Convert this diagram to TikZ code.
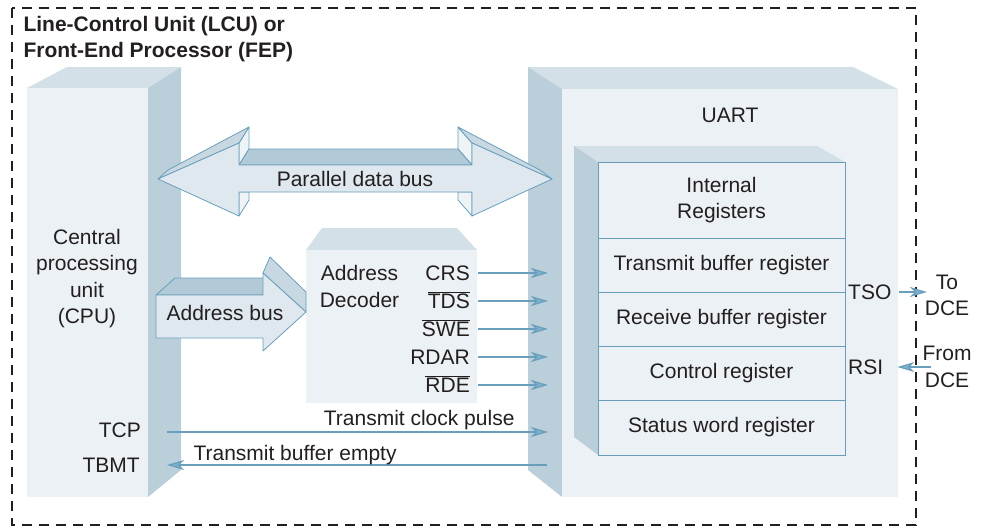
\documentclass[tikz,border=0pt]{standalone}
\usepackage{fontspec}
\setmainfont{Liberation Sans}
\usetikzlibrary{arrows.meta}
\definecolor{ink}{HTML}{231F20}
\definecolor{facelight}{HTML}{EBF1F4}
\definecolor{facetop}{HTML}{D3E0E7}
\definecolor{faceside}{HTML}{BBCFDB}
\definecolor{busfront}{HTML}{DEE8EE}
\definecolor{bustop}{HTML}{B2C9D7}
\definecolor{busslope}{HTML}{C8D8E2}
\definecolor{busback}{HTML}{EEF3F6}
\definecolor{lineblue}{HTML}{6A9FBC}
\definecolor{tipblue}{HTML}{7DB0CB}
\newcommand{\ovl}[1]{$\overline{\mbox{#1}}$}

\begin{document}
\begin{tikzpicture}[x=1pt, y=-1pt, font=\fontsize{21}{26.5}\selectfont, text=ink,
    busface/.style={fill=#1, draw=lineblue, line width=0.8pt, line join=round},
    reg/.style={draw=lineblue, fill=facelight, line width=1pt, minimum width=247pt, inner sep=0pt, align=center},
    sig/.style={anchor=east, inner sep=0pt, text height=15pt, text depth=0pt},
    sigarrow/.style={draw=lineblue, line width=1.2pt, -{Stealth[length=17pt, width=10pt, inset=5pt, fill=tipblue]}}]
        \useasboundingbox (0,0) rectangle (981,527);
        \draw[ink, line width=1.2pt, dash pattern=on 10pt off 7pt] (12,8) rectangle (916,525);
        \node[anchor=base west, font=\fontsize{21}{26}\selectfont\bfseries] (title1) at (20,32) {Line-Control Unit (LCU) or};
        \node[anchor=base west, font=\fontsize{21}{26}\selectfont\bfseries] (title2) at (20,58) {Front-End Processor (FEP)};
        % CPU block
        \fill[facetop] (27,88) -- (67,67) -- (181,67) -- (148,88) -- cycle;
        \fill[faceside] (148,88) -- (181,67) -- (181,470) -- (148,497) -- cycle;
        \fill[facelight] (27,88) rectangle (148,497);
        \node[align=center, font=\fontsize{21}{26.3}\selectfont] (cpu) at (87,278.5) {Central\\processing\\unit\\(CPU)};
        % UART block
        \fill[facetop] (562,89) -- (528,67) -- (853,67) -- (898,89) -- cycle;
        \fill[faceside] (528,67) -- (562,89) -- (562,497) -- (528,470) -- cycle;
        \fill[facelight] (562,89) rectangle (898,497);
        \node (uart) at (730,115) {UART};
        % address decoder
        \fill[facetop] (306,250) -- (322,228) -- (457,228) -- (477,250) -- cycle;
        \fill[facelight] (306,250) rectangle (477,403);
        \node[align=center, font=\fontsize{21}{27}\selectfont] (dec) at (359.5,286) {Address\\Decoder};
        % register stack
        \fill[facetop] (574,146) -- (817,146) -- (845,162) -- (598,162) -- cycle;
        \fill[faceside] (574,146) -- (598,162) -- (598,455) -- (574,437) -- cycle;
        \node[reg, minimum height=76pt] (intReg) at (721.5,200) {Internal\\Registers};
        \node[reg, minimum height=54pt] (txReg) at (721.5,265) {Transmit buffer register};
        \node[reg, minimum height=54pt] (rxReg) at (721.5,319) {Receive buffer register};
        \node[reg, minimum height=54pt] (ctrlReg) at (721.5,373) {Control register};
        \node[reg, minimum height=55pt] (statReg) at (721.5,427.5) {Status word register};
        % parallel data bus
        \path[busface=busback] (239,143) -- (249,127) -- (249,149) -- (239,165) -- cycle;
        \path[busface=busback] (472,143) -- (458,127) -- (458,149) -- (472,165) -- cycle;
        \path[busface=busback] (239,192) -- (249,192) -- (249,200) -- (239,216) -- cycle;
        \path[busface=busback] (472,192) -- (458,192) -- (458,200) -- (472,216) -- cycle;
        \path[busface=bustop] (239,165) -- (249,149) -- (458,149) -- (472,165) -- cycle;
        \path[busface=busslope] (158,179) -- (168,170) -- (249,127) -- (239,143) -- cycle;
        \path[busface=busslope] (552,179) -- (540,170) -- (458,127) -- (472,143) -- cycle;
        \path[busface=busfront] (158,179) -- (239,143) -- (239,165) -- (472,165) -- (472,143) -- (552,179)
            -- (472,216) -- (472,192) -- (239,192) -- (239,216) -- cycle;
        \node (pbus) at (355,179) {Parallel data bus};
        % address bus
        \path[busface=bustop] (156,295) -- (175,278) -- (270,278) -- (263,295) -- cycle;
        \path[busface=busslope] (263,273) -- (270,257) -- (306,292) -- (306,312) -- cycle;
        \path[busface=busfront] (156,295) -- (263,295) -- (263,273) -- (306,312) -- (263,351) -- (263,338) -- (156,338) -- cycle;
        \node (abus) at (225,313) {Address bus};
        % decoder outputs
        \foreach \nm/\txt/\yy in {crs/CRS/273, tds/{\ovl{TDS}}/301, swe/{\ovl{SWE}}/329, rdar/RDAR/357, rde/{\ovl{RDE}}/385} {
            \node[sig] (\nm) at (470,\yy) {\txt};
            \coordinate (\nm-in) at (548,\yy);
            \draw[sigarrow] ([xshift=8pt]\nm.east) -- (\nm-in);
        }
        % clock and buffer-empty lines
        \node[sig] (tcp) at (141,430) {TCP};
        \node[sig] (tbmt) at (140,465) {TBMT};
        \coordinate (tcpOut) at (167,432);
        \coordinate (tcpIn) at (548,432);
        \coordinate (tbmtOut) at (547,465);
        \coordinate (tbmtIn) at (167,465);
        \draw[sigarrow] (tcpOut) -- (tcpIn);
        \draw[sigarrow] (tbmtOut) -- (tbmtIn);
        \node[anchor=base east] (clkLbl) at (518,425) {Transmit clock pulse};
        \node[anchor=base west] (emptyLbl) at (190,460) {Transmit buffer empty};
        % serial lines to the DCE
        \node[sig, anchor=west] (tso) at (848,292) {TSO};
        \node[sig, anchor=west] (rsi) at (848,367) {RSI};
        \node[align=center, font=\fontsize{21}{26}\selectfont] (toDce) at (947,295) {To\\DCE};
        \node[align=center, font=\fontsize{21}{27}\selectfont] (fromDce) at (947,367) {From\\DCE};
        \coordinate (tsoEnd) at (927,292);
        \coordinate (rsiStart) at (931,367);
        \draw[sigarrow] ([xshift=7pt]tso.east) -- (tsoEnd);
        \draw[sigarrow] (rsiStart) -- ([xshift=14pt]rsi.east);
\end{tikzpicture}
\end{document}
